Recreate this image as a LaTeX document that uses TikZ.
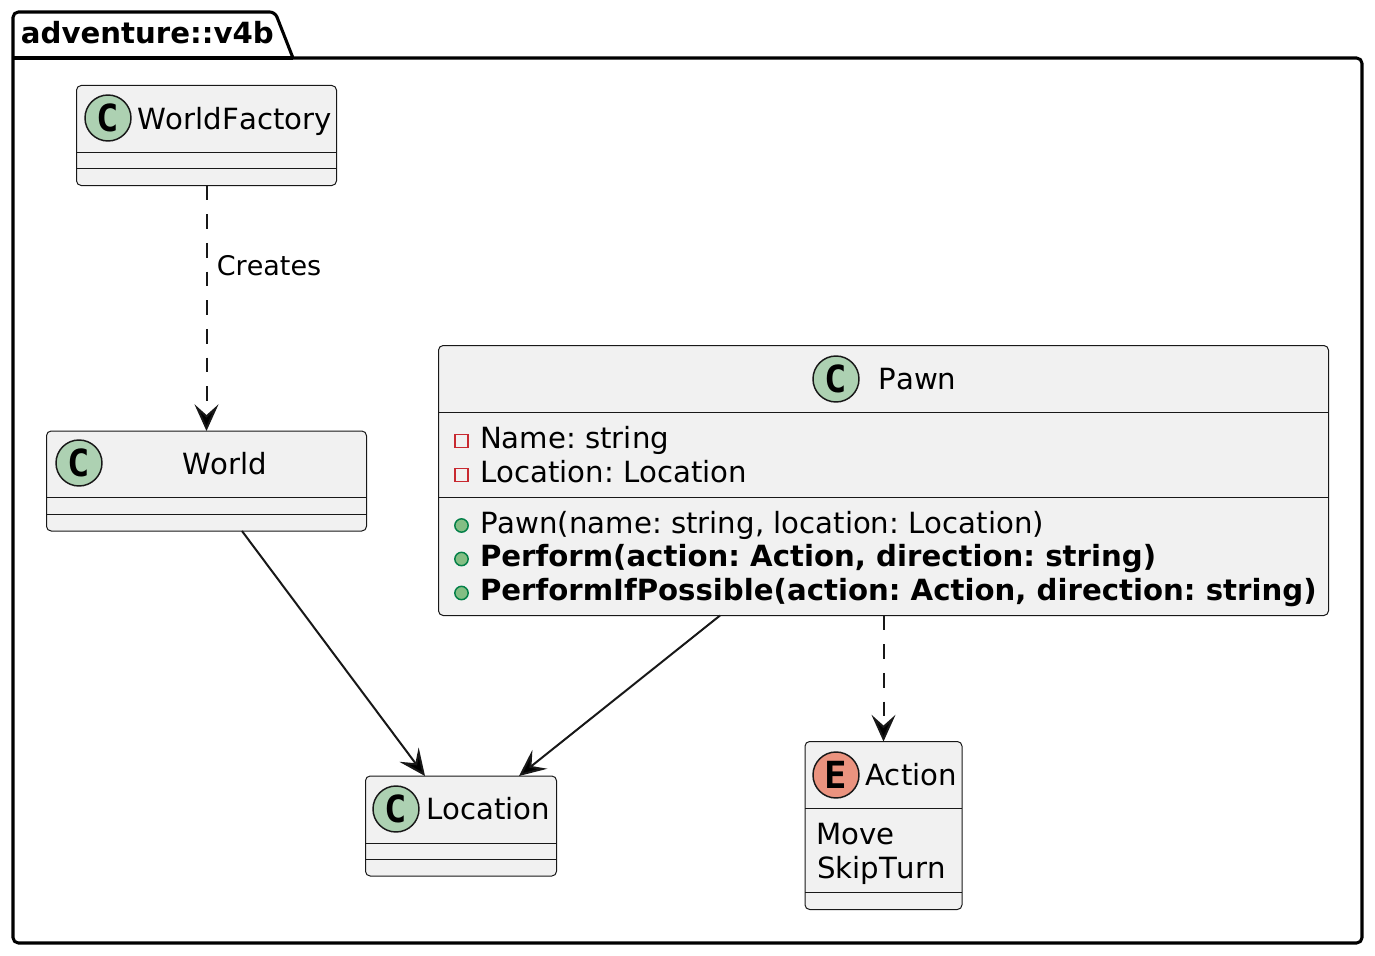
\documentclass[tikz,border=0pt]{standalone}
\usepackage{fontspec}
\setmainfont[Kerning=Off]{DejaVu Sans}
\newfontfamily\spotfont{DejaVu Sans Mono}
\frenchspacing
\usetikzlibrary{arrows.meta}
\definecolor{boxfill}{HTML}{F1F1F1}
\definecolor{boxline}{HTML}{181818}
\definecolor{spotclass}{HTML}{ADD1B2}
\definecolor{spotenum}{HTML}{EB937F}
\definecolor{privline}{HTML}{C82930}
\definecolor{publine}{HTML}{038048}
\definecolor{pubfill}{HTML}{84BE84}
\tikzset{
  classbox/.style 2 args={draw=boxline,fill=boxfill,line width=0.75pt,rounded corners=3.5pt,
    inner sep=0pt,outer sep=0pt,minimum width=#1*0.75pt,minimum height=#2*0.75pt},
  label/.style={anchor=base west,inner sep=0pt,font=\fontsize{21.9}{26}\selectfont},
  boldlabel/.style={label,font=\fontsize{21.9}{26}\selectfont\bfseries},
  sepline/.style={draw=boxline,line width=0.6pt},
  spot/.style={circle,draw=boxline,line width=1.1pt,minimum size=34.5pt,inner sep=0pt,
    font=\fontsize{28}{28}\selectfont\spotfont\bfseries},
  priv/.style={rectangle,draw=privline,line width=1.2pt,minimum size=9.5pt,inner sep=0pt},
  pub/.style={circle,draw=publine,fill=pubfill,line width=1.1pt,minimum size=10pt,inner sep=0pt},
  dashline/.style={dash pattern=on 11pt off 10.5pt},
}
\begin{document}
\begin{tikzpicture}[x=0.75pt,y=-0.75pt,>={Stealth[length=20pt,width=18pt,inset=8pt]},line width=1.5pt]
	\useasboundingbox (0,0) rectangle (1375,956);

	% package
	\draw[line width=2.3pt,line join=round]
		(13,58) [rounded corners=4pt] -- (13,12) -- (275,12) [sharp corners] -- (293,58)
		[rounded corners=4pt] -- (1362,58) -- (1362,943) -- (13,943) -- cycle;
	\draw[line width=2.3pt] (13,58) -- (293,58);
	\node[boldlabel] (title) at (20,44) {adventure::v4b};

	% classes
	\node[classbox={260}{100}] (factory) at (206.5,135.5) {};
	\node[classbox={320}{100}] (world) at (206.5,481) {};
	\node[classbox={890}{270}] (pawn) at (883.5,480.5) {};
	\node[classbox={191}{100}] (location) at (461,826) {};
	\node[classbox={157}{168}] (action) at (883.5,825.5) {};

	% compartments
	\draw[sepline] (factory.west |- 0,152) -- (factory.east |- 0,152);
	\draw[sepline] (factory.west |- 0,168) -- (factory.east |- 0,168);
	\draw[sepline] (world.west |- 0,497) -- (world.east |- 0,497);
	\draw[sepline] (world.west |- 0,514) -- (world.east |- 0,514);
	\draw[sepline] (pawn.west |- 0,412) -- (pawn.east |- 0,412);
	\draw[sepline] (pawn.west |- 0,497) -- (pawn.east |- 0,497);
	\draw[sepline] (location.west |- 0,843) -- (location.east |- 0,843);
	\draw[sepline] (location.west |- 0,859) -- (location.east |- 0,859);
	\draw[sepline] (action.west |- 0,808) -- (action.east |- 0,808);
	\draw[sepline] (action.west |- 0,892) -- (action.east |- 0,892);

	% headers
	\node[spot,fill=spotclass] (factoryspot) at (108,118) {C};
	\node[label] (factoryname) at (136,129) {WorldFactory};
	\node[spot,fill=spotclass] (worldspot) at (79,463) {C};
	\node[label] (worldname) at (181,474) {World};
	\node[spot,fill=spotclass] (pawnspot) at (836,379) {C};
	\node[label] (pawnname) at (877.5,389.5) {Pawn};
	\node[spot,fill=spotclass] (locationspot) at (396,809) {C};
	\node[label] (locationname) at (425,819.5) {Location};
	\node[spot,fill=spotenum] (actionspot) at (836,775) {E};
	\node[label] (actionname) at (864,785.5) {Action};

	% members
	\node[priv] (namemark) at (461.5,441) {};
	\node[label] (namefield) at (479,448) {Name: string};
	\node[priv] (placemark) at (461.5,475) {};
	\node[label] (placefield) at (479,482) {Location: Location};
	\node[pub] (ctormark) at (461.5,525.5) {};
	\node[label] (ctor) at (479,533) {Pawn(name: string, location: Location)};
	\node[pub] (performmark) at (461.5,559) {};
	\node[boldlabel] (perform) at (479,566.5) {Perform(action: Action, direction: string)};
	\node[pub] (possiblemark) at (461.5,593) {};
	\node[boldlabel] (possible) at (479,600.5) {PerformIfPossible(action: Action, direction: string)};
	\node[label] (move) at (815,844) {Move};
	\node[label] (skipturn) at (816,878) {SkipTurn};

	% relations
	\path[draw=boxline]
		(factory) edge [->,dashline] node[pos=.325,right=7pt,inner sep=0pt,font=\fontsize{20.25}{24}\selectfont] (creates) {Creates} (world)
		([xshift=26.6pt]world.south) edge [->] ([xshift=-27pt]location.north)
		([xshift=-122.6pt]pawn.south) edge [->] ([xshift=43.5pt]location.north)
		(pawn) edge [->,dashline] (action);
\end{tikzpicture}
\end{document}
